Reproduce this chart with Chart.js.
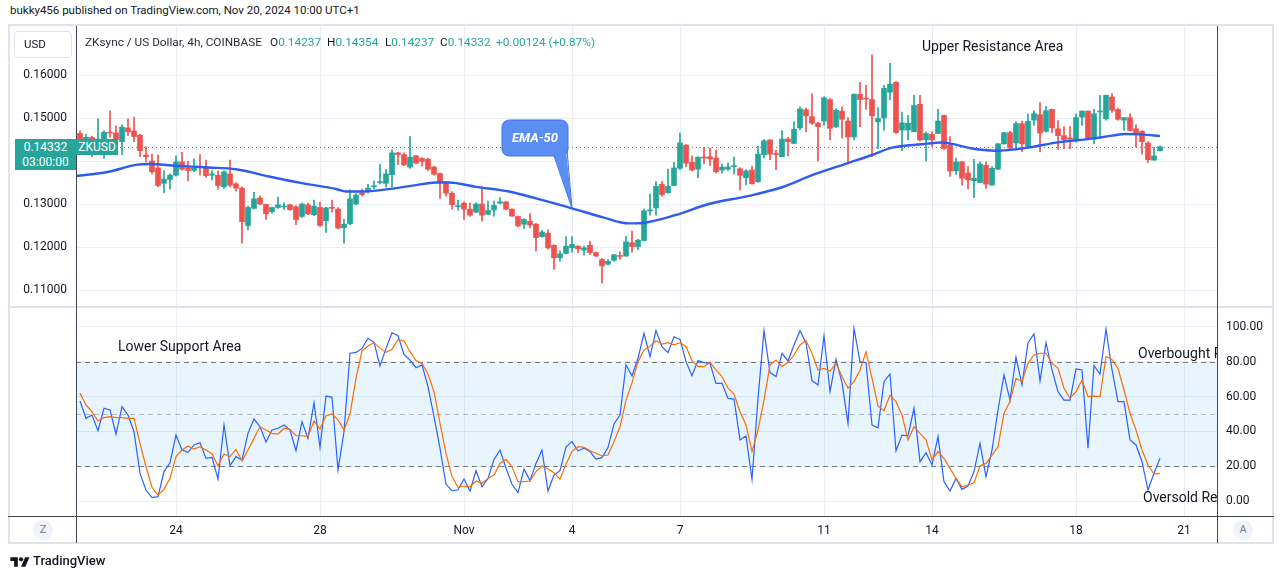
<!DOCTYPE html>
<html>
<head>
<meta charset="utf-8">
<script src="https://cdn.jsdelivr.net/npm/chart.js@4.4.1/dist/chart.umd.min.js"></script>
<style>
  html, body { margin: 0; padding: 0; background: #fff; }
  body { width: 1281px; height: 579px; position: relative; overflow: hidden; font-family: Roboto, "Noto Sans", sans-serif; color: #131722; }
  .abs { position: absolute; white-space: nowrap; }
  canvas { position: absolute; }
  .frame { position: absolute; left: 8px; top: 24px; width: 1262px; height: 516px; border: 2px solid #e0e3eb; }
  .vline { position: absolute; width: 1px; background: #434651; }
  .hline { position: absolute; height: 1px; }
  .note { font-size: 14px; line-height: 16px; color: #131722; }
  .clip { position: absolute; overflow: hidden; }
  .circ { position: absolute; width: 20px; height: 20px; border-radius: 10px; background: #f0f3fa; color: #787b86; font-size: 11px; line-height: 20px; text-align: center; }
  .legend { font-size: 11.8px; line-height: 14px; top: 35px; }
  .up { color: #26a69a; }
</style>
</head>
<body>
<div class="abs" style="left:10px;top:3px;font-size:11.5px;line-height:14px;">bukky456 published on TradingView.com, Nov 20, 2024 10:00 UTC+1</div>
<div class="frame"></div>

<canvas id="priceChart" width="1263" height="281" style="left:10px;top:26px;width:1263px;height:281px;"></canvas>
<canvas id="stochChart" width="1263" height="236" style="left:10px;top:307px;width:1263px;height:236px;"></canvas>

<div class="hline" style="left:8px;top:306px;width:1266px;height:2px;background:#e0e3eb;"></div>
<div class="hline" style="left:8px;top:516px;width:1266px;background:#434651;"></div>
<div class="vline" style="left:76px;top:26px;height:517px;"></div>
<div class="vline" style="left:1217px;top:26px;height:517px;"></div>

<div class="abs" style="left:14px;top:31px;width:56px;height:25px;border:1px solid #e0e3eb;border-radius:4px;font-size:11.5px;line-height:25px;text-indent:9px;">USD</div>

<div class="abs legend" style="left:85px;color:#2a2e39;">ZKsync / US Dollar, 4h, COINBASE</div>
<div class="abs legend" style="left:270px;">O<span class="up">0.14237</span></div>
<div class="abs legend" style="left:327px;">H<span class="up">0.14354</span></div>
<div class="abs legend" style="left:385px;">L<span class="up">0.14237</span></div>
<div class="abs legend" style="left:440px;">C<span class="up">0.14332</span></div>
<div class="abs legend up" style="left:496px;">+0.00124 (+0.87%)</div>

<div class="abs" style="left:15px;top:139px;width:61px;height:31px;background:#26a69a;color:#fff;font-size:12px;text-align:center;line-height:15px;padding-top:1px;box-sizing:border-box;">0.14332<br>03:00:00</div>
<div class="abs" style="left:76px;top:139px;width:42px;height:16px;background:#26a69a;color:#fff;font-size:12px;line-height:16px;text-align:center;">ZKUSD</div>

<div class="abs note" style="left:922px;top:38px;">Upper Resistance Area</div>
<div class="abs note" style="left:118px;top:338px;">Lower Support Area</div>
<div class="clip" style="left:1137px;top:344px;width:80px;height:18px;"><div class="abs note" style="left:1px;top:1px;">Overbought Region</div></div>
<div class="clip" style="left:1143px;top:488px;width:74px;height:18px;"><div class="abs note" style="left:0px;top:1px;">Oversold Region</div></div>

<div class="circ" style="left:33px;top:520px;">Z</div>
<div class="circ" style="left:1233px;top:520px;">A</div>

<div class="abs" style="left:10px;top:554px;">
  <svg width="20" height="14" viewBox="0 0 36 26"><path d="M14 22H7V11H0V4h14v18zM28 22h-8l7.5-18h8L28 22z" fill="#131722"/><circle cx="20" cy="8" r="4" fill="#131722"/></svg>
</div>
<div class="abs" style="left:33px;top:553px;font-size:13px;line-height:16px;font-weight:500;">TradingView</div>

<script>
// 4h candles, Oct 21 08:00 to Nov 20 08:00 (bar index 0..180)
const opens = [
  .1464,.1451,.1455,.1443,.1451,.1467,.1465,.1445,.1477,.1470,
  .1460,.1414,.1400,.1384,.1348,.1357,.1367,.1398,.1384,.1378,
  .1388,.1385,.1367,.1367,.1340,.1370,.1347,.1337,.1250,.1290,
  .1314,.1299,.1282,.1292,.1293,.1298,.1294,.1271,.1298,.1275,
  .1292,.1261,.1292,.1288,.1245,.1254,.1300,.1326,.1329,.1340,
  .1350,.1348,.1368,.1419,.1415,.1386,.1412,.1406,.1404,.1386,
  .1371,.1350,.1325,.1294,.1302,.1288,.1281,.1300,.1276,.1286,
  .1302,.1305,.1288,.1271,.1253,.1260,.1253,.1224,.1232,.1204,
  .1175,.1185,.1198,.1202,.1193,.1204,.1187,.1171,.1160,.1169,
  .1180,.1179,.1210,.1201,.1215,.1284,.1291,.1346,.1326,.1343,
  .1383,.1437,.1397,.1381,.1409,.1410,.1407,.1379,.1381,.1387,
  .1382,.1361,.1379,.1352,.1415,.1449,.1417,.1410,.1451,.1441,
  .1477,.1519,.1503,.1488,.1493,.1543,.1479,.1516,.1493,.1456,
  .1555,.1545,.1543,.1491,.1500,.1560,.1583,.1472,.1472,.1468,
  .1532,.1449,.1462,.1464,.1506,.1437,.1377,.1398,.1372,.1354,
  .1350,.1390,.1344,.1381,.1440,.1466,.1442,.1487,.1434,.1495,
  .1508,.1469,.1520,.1475,.1459,.1452,.1450,.1502,.1516,.1453,
  .1514,.1498,.1549,.1520,.1495,.1501,.1475,.1469,.1442,.1402,
  .14237
];
const highs = [
  .1470,.1462,.1458,.1498,.1470,.1517,.1482,.1484,.1498,.1502,
  .1462,.1433,.1416,.1414,.1378,.1370,.1412,.1420,.1400,.1405,
  .1415,.1402,.1378,.1377,.1377,.1402,.1350,.1340,.1295,.1327,
  .1319,.1300,.1293,.1316,.1302,.1300,.1296,.1302,.1302,.1309,
  .1304,.1293,.1309,.1292,.1265,.1333,.1324,.1335,.1346,.1354,
  .1393,.1380,.1426,.1420,.1419,.1457,.1413,.1408,.1407,.1388,
  .1372,.1353,.1329,.1309,.1305,.1302,.1303,.1340,.1307,.1307,
  .1315,.1306,.1289,.1272,.1266,.1278,.1255,.1239,.1240,.1205,
  .1191,.1224,.1224,.1203,.1202,.1214,.1188,.1173,.1171,.1183,
  .1189,.1224,.1237,.1218,.1288,.1323,.1352,.1352,.1381,.1397,
  .1465,.1438,.1412,.1410,.1432,.1430,.1425,.1393,.1395,.1409,
  .1385,.1380,.1388,.1434,.1450,.1450,.1425,.1471,.1455,.1492,
  .1526,.1523,.1556,.1490,.1549,.1545,.1522,.1526,.1501,.1556,
  .1583,.1576,.1647,.1524,.1576,.1627,.1585,.1514,.1506,.1553,
  .1553,.1468,.1468,.1520,.1507,.1457,.1407,.1399,.1387,.1404,
  .1398,.1398,.1387,.1441,.1467,.1469,.1491,.1493,.1509,.1517,
  .1536,.1527,.1521,.1494,.1480,.1480,.1510,.1517,.1517,.1520,
  .1553,.1553,.1557,.1523,.1501,.1510,.1484,.1471,.1445,.1432,
  .14354
];
const lows = [
  .1445,.1440,.1410,.1436,.1406,.1455,.1440,.1415,.1459,.1445,
  .1410,.1398,.1370,.1340,.1326,.1335,.1365,.1378,.1354,.1375,
  .1367,.1362,.1356,.1334,.1336,.1340,.1330,.1209,.1240,.1288,
  .1298,.1264,.1278,.1290,.1287,.1285,.1252,.1269,.1275,.1273,
  .1248,.1234,.1281,.1242,.1209,.1252,.1298,.1318,.1326,.1335,
  .1347,.1339,.1339,.1392,.1389,.1383,.1393,.1388,.1378,.1367,
  .1313,.1319,.1288,.1285,.1264,.1271,.1280,.1260,.1275,.1272,
  .1300,.1287,.1271,.1247,.1243,.1245,.1191,.1223,.1195,.1148,
  .1167,.1184,.1188,.1187,.1181,.1183,.1178,.1116,.1158,.1167,
  .1171,.1178,.1188,.1194,.1214,.1274,.1274,.1318,.1325,.1343,
  .1380,.1387,.1377,.1361,.1394,.1389,.1372,.1372,.1378,.1370,
  .1333,.1345,.1346,.1350,.1407,.1403,.1380,.1410,.1412,.1441,
  .1473,.1468,.1485,.1400,.1483,.1449,.1478,.1453,.1393,.1449,
  .1480,.1520,.1410,.1429,.1472,.1542,.1464,.1424,.1449,.1468,
  .1447,.1400,.1434,.1464,.1427,.1364,.1369,.1344,.1335,.1315,
  .1350,.1336,.1344,.1380,.1439,.1427,.1428,.1422,.1432,.1483,
  .1422,.1467,.1466,.1427,.1428,.1428,.1444,.1483,.1450,.1440,
  .1455,.1495,.1513,.1495,.1471,.1470,.1432,.1416,.1397,.1402,
  .14237
];
const closes = [
  .1451,.1455,.1443,.1451,.1467,.1465,.1449,.1479,.1468,.1457,
  .1424,.1410,.1375,.1343,.1358,.1367,.1398,.1381,.1378,.1384,
  .1385,.1366,.1370,.1343,.1375,.1344,.1337,.1259,.1292,.1312,
  .1300,.1277,.1292,.1298,.1295,.1287,.1264,.1300,.1277,.1295,
  .1250,.1291,.1290,.1244,.1253,.1312,.1321,.1322,.1337,.1342,
  .1352,.1370,.1419,.1415,.1391,.1409,.1395,.1399,.1381,.1369,
  .1350,.1325,.1298,.1296,.1288,.1274,.1300,.1274,.1285,.1297,
  .1305,.1288,.1272,.1249,.1264,.1251,.1222,.1235,.1198,.1175,
  .1184,.1202,.1206,.1196,.1198,.1187,.1179,.1156,.1167,.1182,
  .1178,.1212,.1201,.1216,.1284,.1285,.1341,.1322,.1341,.1384,
  .1442,.1395,.1379,.1409,.1407,.1405,.1375,.1386,.1386,.1388,
  .1367,.1377,.1347,.1416,.1447,.1416,.1415,.1451,.1445,.1474,
  .1521,.1505,.1488,.1480,.1547,.1476,.1518,.1497,.1456,.1555,
  .1543,.1544,.1505,.1499,.1569,.1579,.1466,.1489,.1488,.1529,
  .1449,.1464,.1449,.1493,.1429,.1377,.1398,.1360,.1356,.1360,
  .1393,.1346,.1383,.1440,.1466,.1430,.1487,.1440,.1492,.1510,
  .1465,.1517,.1477,.1459,.1450,.1451,.1501,.1516,.1453,.1510,
  .1516,.1553,.1518,.1497,.1501,.1471,.1465,.1445,.1403,.1412,
  .14332
];

// EMA-50 (bar index, value)
const emaIdx = [-0.67, 4.8, 9.3, 11.5, 16, 21.5, 26, 31.5, 37.2, 42.7, 44.3, 47.2, 52.7, 56, 59.3, 61.5,
  66, 71.5, 76, 82, 87.2, 91.5, 93.7, 99.2, 104.8, 111.5, 117, 122, 127.5, 132, 135.3, 140.3, 143.7,
  145.3, 148.7, 152.5, 157.5, 163.2, 168.7, 172, 174.2, 177, 180];
const emaVal = [.1365, .1375, .1391, .1393, .1389, .1385, .1381, .1364, .1348, .1335, .1329, .1329, .1337, .1344, .1350, .1350,
  .1340, .1329, .1313, .1290, .1269, .1255, .1256, .1274, .1300, .1319, .1339, .1367, .1393, .1414, .1431, .1439, .1443,
  .1440, .1429, .1424, .1430, .1444, .1452, .1459, .1463, .1462, .1458];
const calloutIdx = 82;

// Stochastic %K (blue) and %D (orange)
const stochK = [
  57.5,47.5,49.4,40.4,53.3,52.3,38.5,54.2,49.4,39.8,
  15.9,6.3,1.9,2.5,16.9,22.0,37.9,29.3,28.0,32.2,
  33.5,24.5,25.1,12.6,43.7,20.3,25.5,23.6,38.9,47.1,
  42.7,33.9,40.8,41.8,43.7,40.8,28.9,45.6,36.0,56.5,
  30.8,60.3,59.6,17.8,39.8,84.9,85.4,87.7,93.5,91.2,
  77.6,87.7,96.7,95.0,84.3,81.0,76.6,78.2,65.7,48.5,
  30.3,9.6,5.9,6.3,12.6,5.7,17.4,8.2,13.0,23.9,
  29.3,18.8,9.6,4.8,18.4,11.7,21.6,29.3,5.7,14.9,
  17.4,31.2,34.1,28.9,30.3,28.4,24.1,24.9,30.7,44.3,
  49.4,78.2,71.8,82.0,96.4,82.9,97.9,88.7,85.2,94.4,
  92.9,80.1,72.0,80.7,79.5,79.1,67.6,67.6,59.0,58.6,
  35.1,37.4,12.5,59.0,97.9,73.8,71.5,84.9,80.5,89.7,
  97.9,91.0,69.2,66.7,94.8,62.8,81.4,68.0,44.6,99.2,
  80.1,79.5,43.7,42.1,68.6,73.0,28.9,37.9,37.5,53.3,
  22.6,27.8,20.7,37.0,11.1,5.7,13.0,6.7,8.6,16.9,
  33.1,14.0,29.3,52.3,72.4,58.0,82.6,66.7,91.0,96.0,
  69.0,91.0,75.3,62.8,58.0,58.0,75.9,75.3,30.3,77.8,
  73.0,98.7,75.3,57.1,57.1,35.1,32.2,22.6,6.3,15.9,
  24.5
];
const stochD = [
  62.0,55.2,51.3,46.0,47.9,48.5,47.9,47.9,47.5,47.5,
  33.1,19.7,7.9,3.4,6.7,13.0,25.5,29.3,31.6,29.9,
  31.2,29.3,27.0,20.3,27.0,25.5,29.7,23.0,29.3,36.0,
  42.7,40.8,38.9,38.5,41.8,41.2,37.5,37.5,37.0,46.0,
  41.4,49.0,50.0,46.6,40.8,50.0,70.5,86.4,89.1,91.0,
  87.7,85.4,87.2,92.9,92.0,85.8,80.7,79.1,73.0,62.8,
  44.6,27.4,14.0,7.9,8.6,8.2,11.5,10.2,13.0,14.9,
  21.6,23.9,19.7,11.1,11.1,11.5,16.9,20.1,18.4,16.3,
  12.5,21.3,28.4,31.2,30.8,28.9,27.4,25.9,26.4,34.1,
  42.7,58.0,68.0,80.1,86.8,89.0,92.1,90.2,91.0,89.7,
  91.0,88.7,80.7,77.2,77.2,79.7,75.3,71.5,64.8,61.5,
  51.3,43.7,28.4,40.8,58.0,78.2,81.0,77.2,79.7,83.9,
  89.7,92.1,84.9,75.3,76.2,74.7,79.1,71.5,64.8,68.6,
  75.3,85.8,70.5,54.6,51.9,60.9,57.1,49.4,35.1,42.7,
  38.9,35.1,23.6,28.4,24.5,18.8,13.0,8.2,9.2,10.5,
  20.1,21.6,26.4,31.2,50.4,57.1,70.5,68.6,79.1,83.9,
  84.9,84.9,79.1,76.2,64.8,59.0,62.8,69.5,60.0,60.3,
  60.0,83.0,81.4,76.2,63.8,50.4,40.8,29.3,20.7,15.5,
  15.9
];

// axis ticks
const dayTickIdx = [16, 40, 64, 82, 100, 124, 142, 166, 184];
const dayTickLabels = ['24', '28', 'Nov', '4', '7', '11', '14', '18', '21'];
const priceTicks = [0.11, 0.12, 0.13, 0.14, 0.15, 0.16];
const stochTicks = [0, 20, 40, 60, 80, 100];
const bandUpper = 80, bandMid = 50, bandLower = 20;

const UP = '#26a69a', DOWN = '#ef5350', GRID = '#e9eef5';
const xMin = -0.667, xMax = 189.5;

const candleColors = closes.map((c, i) => c >= opens[i] ? UP : DOWN);
const bodies = closes.map((c, i) => ({ x: i, y: [opens[i], c] }));
const wicks = closes.map((c, i) => ({ x: i, y: [lows[i], highs[i]] }));

// keep the plot area flush with the pane edges
const noPad = s => { s.paddingTop = 0; s.paddingBottom = 0; s.paddingLeft = 0; s.paddingRight = 0; };

const priceOverlay = {
  id: 'priceOverlay',
  beforeDatasetsDraw(chart) {
    const { ctx, chartArea: a, scales: { y } } = chart;
    const py = Math.round(y.getPixelForValue(closes[closes.length - 1])) + 0.5;
    ctx.save();
    ctx.strokeStyle = UP;
    ctx.lineWidth = 1;
    ctx.setLineDash([1, 3]);
    ctx.beginPath();
    ctx.moveTo(a.left, py);
    ctx.lineTo(a.right, py);
    ctx.stroke();
    ctx.restore();
  },
  afterDatasetsDraw(chart) {
    const { ctx, scales: { x, y } } = chart;
    const tipX = x.getPixelForValue(calloutIdx);
    const tipY = y.getPixelForValue(emaVal[emaIdx.indexOf(calloutIdx)]);
    const bx = 492, by = 94, bw = 66, bh = 36;
    ctx.save();
    ctx.fillStyle = '#5b8ef3';
    ctx.strokeStyle = '#3f74e6';
    ctx.lineWidth = 1;
    ctx.beginPath();
    ctx.roundRect(bx, by, bw, bh, 7);
    ctx.fill();
    ctx.stroke();
    ctx.beginPath();
    ctx.moveTo(bx + bw - 14, by + bh - 1);
    ctx.lineTo(tipX, tipY);
    ctx.lineTo(bx + bw - 2, by + bh - 6);
    ctx.closePath();
    ctx.fill();
    ctx.beginPath();
    ctx.moveTo(bx + bw - 14, by + bh);
    ctx.lineTo(tipX, tipY);
    ctx.lineTo(bx + bw - 1, by + bh - 6);
    ctx.stroke();
    ctx.fillStyle = '#fff';
    ctx.font = 'italic bold 13px Roboto, sans-serif';
    ctx.textAlign = 'center';
    ctx.textBaseline = 'middle';
    ctx.fillText('EMA-50', bx + bw / 2, by + bh / 2 + 1);
    ctx.restore();
  }
};

const stochBands = {
  id: 'stochBands',
  beforeDatasetsDraw(chart) {
    const { ctx, chartArea: a, scales: { y } } = chart;
    const yUp = Math.round(y.getPixelForValue(bandUpper)) + 0.5;
    const yLo = Math.round(y.getPixelForValue(bandLower)) + 0.5;
    const yMid = Math.round(y.getPixelForValue(bandMid)) + 0.5;
    ctx.save();
    ctx.fillStyle = 'rgba(33, 150, 243, 0.1)';
    ctx.fillRect(a.left, yUp, a.right - a.left, yLo - yUp);
    ctx.lineWidth = 1;
    ctx.setLineDash([5, 4]);
    ctx.strokeStyle = '#787b86';
    [yUp, yLo].forEach(p => {
      ctx.beginPath(); ctx.moveTo(a.left, p); ctx.lineTo(a.right, p); ctx.stroke();
    });
    ctx.strokeStyle = 'rgba(120, 123, 134, 0.5)';
    ctx.beginPath(); ctx.moveTo(a.left, yMid); ctx.lineTo(a.right, yMid); ctx.stroke();
    ctx.restore();
  }
};

new Chart(document.getElementById('priceChart').getContext('2d'), {
  type: 'bar',
  data: {
    datasets: [
      {
        type: 'line',
        label: 'EMA-50',
        data: emaIdx.map((v, i) => ({ x: v, y: emaVal[i] })),
        borderColor: '#2f5bf5',
        borderWidth: 2.4,
        pointRadius: 0,
        pointHoverRadius: 0,
        cubicInterpolationMode: 'monotone',
        order: 0
      },
      {
        label: 'body',
        data: bodies,
        backgroundColor: candleColors,
        barThickness: 5,
        minBarLength: 1,
        grouped: false,
        order: 1
      },
      {
        label: 'wick',
        data: wicks,
        backgroundColor: candleColors,
        barThickness: 1,
        grouped: false,
        order: 2
      }
    ]
  },
  options: {
    responsive: false,
    animation: false,
    layout: { autoPadding: false, padding: { left: 0, right: 56, top: 0, bottom: 0 } },
    plugins: { legend: { display: false }, tooltip: { enabled: false } },
    scales: {
      x: {
        type: 'linear',
        offset: false,
        min: xMin,
        max: xMax,
        afterBuildTicks: s => { s.ticks = dayTickIdx.map(v => ({ value: v })); },
        afterFit: s => { s.height = 0; noPad(s); },
        ticks: { display: false },
        grid: { color: GRID, drawTicks: false, offset: false },
        border: { display: false }
      },
      y: {
        position: 'left',
        min: 0.10605,
        max: 0.17140,
        afterBuildTicks: s => { s.ticks = priceTicks.map(v => ({ value: v })); },
        afterFit: s => { s.width = 66; noPad(s); },
        ticks: {
          callback: v => v.toFixed(5),
          color: '#131722',
          font: { family: 'Roboto', size: 12 },
          padding: 9
        },
        grid: { color: GRID, drawTicks: false },
        border: { display: false }
      }
    }
  },
  plugins: [priceOverlay]
});

new Chart(document.getElementById('stochChart').getContext('2d'), {
  type: 'line',
  data: {
    datasets: [
      {
        label: '%K',
        data: stochK.map((v, i) => ({ x: i, y: v })),
        borderColor: '#2962ff',
        borderWidth: 1.2,
        pointRadius: 0,
        pointHoverRadius: 0,
        order: 1
      },
      {
        label: '%D',
        data: stochD.map((v, i) => ({ x: i, y: v })),
        borderColor: '#ff6d00',
        borderWidth: 1.2,
        pointRadius: 0,
        pointHoverRadius: 0,
        order: 0
      }
    ]
  },
  options: {
    responsive: false,
    animation: false,
    layout: { autoPadding: false, padding: { left: 66, right: 0, top: 0, bottom: 0 } },
    plugins: { legend: { display: false }, tooltip: { enabled: false } },
    scales: {
      x: {
        type: 'linear',
        min: xMin,
        max: xMax,
        afterBuildTicks: s => { s.ticks = dayTickIdx.map(v => ({ value: v })); },
        afterFit: s => { s.height = 27; noPad(s); },
        ticks: {
          callback: v => dayTickLabels[dayTickIdx.indexOf(v)],
          color: '#131722',
          font: { family: 'Roboto', size: 12 },
          padding: 8,
          maxRotation: 0,
          autoSkip: false
        },
        grid: { color: GRID, drawTicks: false },
        border: { display: false }
      },
      y: {
        position: 'right',
        min: -8.62,
        max: 111.49,
        afterBuildTicks: s => { s.ticks = stochTicks.map(v => ({ value: v })); },
        afterFit: s => { s.width = 56; noPad(s); },
        ticks: {
          callback: v => v.toFixed(2),
          color: '#131722',
          font: { family: 'Roboto', size: 12 },
          padding: 9
        },
        grid: { color: GRID, drawTicks: false },
        border: { display: false }
      }
    }
  },
  plugins: [stochBands]
});
</script>
</body>
</html>
